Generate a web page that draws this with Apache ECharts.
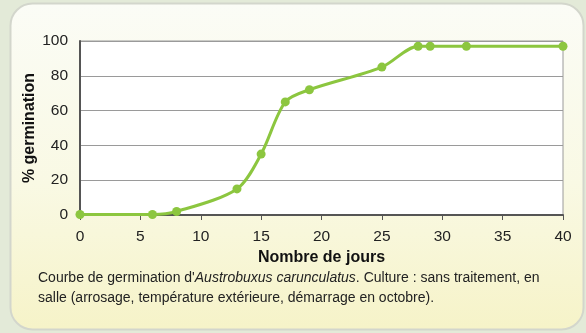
<!DOCTYPE html>
<html>
<head>
<meta charset="utf-8">
<script src="https://cdn.jsdelivr.net/npm/echarts@6/dist/echarts.min.js"></script>
<style>
  html, body { margin: 0; padding: 0; background: #e3ead8; }
  #chart { width: 586px; height: 333px; }
</style>
</head>
<body>
<div id="chart"></div>
<script>
// Germination counts: days since sowing vs. cumulative % germinated
const days = [0, 6, 8, 13, 15, 17, 19, 25, 28, 29, 32, 40];
const germination = [0.3, 0.3, 2, 15, 35, 65, 72, 85, 97, 97, 97, 97];
const xTicks = [0, 5, 10, 15, 20, 25, 30, 35, 40];
const yTicks = [0, 20, 40, 60, 80, 100];

const FONT = '"Liberation Sans", Arial, sans-serif';
const GREEN = '#8cc63f';

const chart = echarts.init(document.getElementById('chart'), null, { renderer: 'canvas' });

chart.setOption({
  animation: false,
  textStyle: { fontFamily: FONT },
  graphic: [
    {
      type: 'rect',
      z: -10,
      silent: true,
      shape: { x: 10.5, y: 3.5, width: 573, height: 326, r: 22 },
      style: {
        fill: {
          type: 'linear', x: 0, y: 0, x2: 0, y2: 1,
          colorStops: [
            { offset: 0, color: '#fbfcf6' },
            { offset: 0.55, color: '#f9f9e4' },
            { offset: 1, color: '#f6f3c8' }
          ]
        },
        stroke: '#d3d6cc',
        lineWidth: 2
      }
    },
    {
      type: 'text',
      left: 38,
      top: 268,
      silent: true,
      style: {
        text: 'Courbe de germination d\'{i|Austrobuxus carunculatus}. Culture : sans traitement, en\nsalle (arrosage, température extérieure, démarrage en octobre).',
        font: '14px ' + FONT,
        fill: '#222',
        lineHeight: 20,
        rich: {
          i: { fontStyle: 'italic', fontSize: 14, fontFamily: FONT, fill: '#222', lineHeight: 20 }
        }
      }
    }
  ],
  grid: {
    left: 80, right: 23, top: 41, bottom: 118,
    show: true,
    backgroundColor: '#ffffff',
    borderColor: '#9a9a9a',
    borderWidth: 1
  },
  xAxis: {
    type: 'value',
    min: xTicks[0],
    max: xTicks[xTicks.length - 1],
    interval: 5,
    name: 'Nombre de jours',
    nameLocation: 'middle',
    nameGap: 35,
    nameMoveOverlap: false,
    nameTextStyle: { fontSize: 16, fontWeight: 'bold', color: '#111', fontFamily: FONT },
    axisLine: { lineStyle: { color: '#555', width: 2 } },
    axisTick: { show: true, length: 5, lineStyle: { color: '#555', width: 1 } },
    axisLabel: { fontSize: 15.5, color: '#222', margin: 14, fontFamily: FONT },
    splitLine: { show: false }
  },
  yAxis: {
    type: 'value',
    min: yTicks[0],
    max: yTicks[yTicks.length - 1],
    interval: 20,
    name: '% germination',
    nameLocation: 'middle',
    nameGap: 42,
    nameMoveOverlap: false,
    nameRotate: 90,
    nameTextStyle: { fontSize: 16, fontWeight: 'bold', color: '#111', fontFamily: FONT },
    axisLine: { show: true, lineStyle: { color: '#555', width: 2 } },
    axisTick: { show: false },
    axisLabel: { fontSize: 15.5, color: '#222', margin: 12, fontFamily: FONT },
    splitLine: { show: true, lineStyle: { color: '#9a9a9a', width: 1 } }
  },
  series: [
    {
      type: 'line',
      data: days.map((d, i) => [d, germination[i]]),
      smooth: 0.3,
      symbol: 'circle',
      symbolSize: 9,
      clip: false,
      lineStyle: { color: GREEN, width: 3 },
      itemStyle: { color: GREEN }
    }
  ]
});
</script>
</body>
</html>
